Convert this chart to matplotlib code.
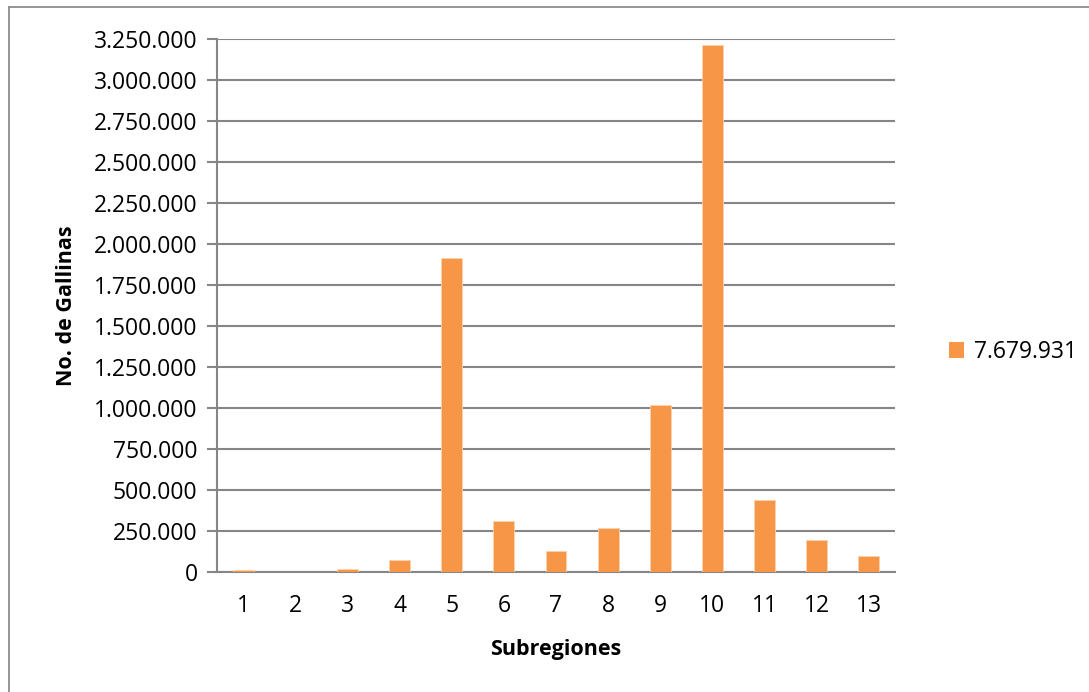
import matplotlib
matplotlib.use("Agg")
import matplotlib.pyplot as plt
from matplotlib.lines import Line2D
from matplotlib.patches import Patch
import numpy as np

categories = ["1", "2", "3", "4", "5", "6", "7", "8", "9", "10", "11", "12", "13"]
values = [10000, 2000, 20000, 71000, 1915000, 309000, 128000, 266000,
          1018000, 3213000, 439000, 195000, 97500]
series_name = "7.679.931"
yticks = list(range(0, 3250001, 250000))

plt.rcParams['font.family'] = ['Open Sans', 'DejaVu Sans']

W, H = 1089, 692
fig = plt.figure(figsize=(W / 100, H / 100), dpi=100)
ax = fig.add_axes([217 / W, 1 - 572 / H, (895 - 217) / W, (572 - 39) / H])

grid_c = '#868686'
bar_c = '#F79646'
x = np.arange(len(categories))
ax.bar(x, values, width=0.4, color=bar_c, edgecolor='#FAD0AE', linewidth=0.6, zorder=3)

ax.set_xlim(-0.5, len(categories) - 0.5)
ax.set_ylim(0, 3250000)
ax.set_yticks(yticks)
ax.set_yticklabels([f"{v:,}".replace(",", ".") for v in yticks])
ax.set_xticks(x)
ax.set_xticklabels(categories)
ax.yaxis.grid(True, color=grid_c, linewidth=1.5, zorder=0)
ax.set_axisbelow(True)

for s in ['top', 'right']:
    ax.spines[s].set_visible(False)
for s in ['left', 'bottom']:
    ax.spines[s].set_color(grid_c)
    ax.spines[s].set_linewidth(1.5)

ax.tick_params(axis='y', length=7, width=1.5, color=grid_c, labelsize=16.5, pad=7, labelcolor='black')
ax.tick_params(axis='x', length=0, labelsize=16.5, pad=16, labelcolor='black')

ax.set_xlabel("Subregiones", fontsize=15.5, fontweight='bold', labelpad=15)
ax.set_ylabel("No. de Gallinas", fontsize=15.5, fontweight='bold', labelpad=12)

handle = Patch(facecolor=bar_c, edgecolor='none')
fig.legend([handle], [series_name], loc='center left',
           bbox_to_anchor=(928 / W, 1 - 352 / H), frameon=False,
           fontsize=16.5, handlelength=0.65, handleheight=0.65, handletextpad=0.45)

# outer chart border (top and left visible)
fig.add_artist(Line2D([9 / W, 1], [1 - 7 / H, 1 - 7 / H], color='#8c8c8c', linewidth=1.3,
                      transform=fig.transFigure))
fig.add_artist(Line2D([9 / W, 9 / W], [0, 1 - 7 / H], color='#8c8c8c', linewidth=1.3,
                      transform=fig.transFigure))

fig.savefig("out.png", dpi=100)
